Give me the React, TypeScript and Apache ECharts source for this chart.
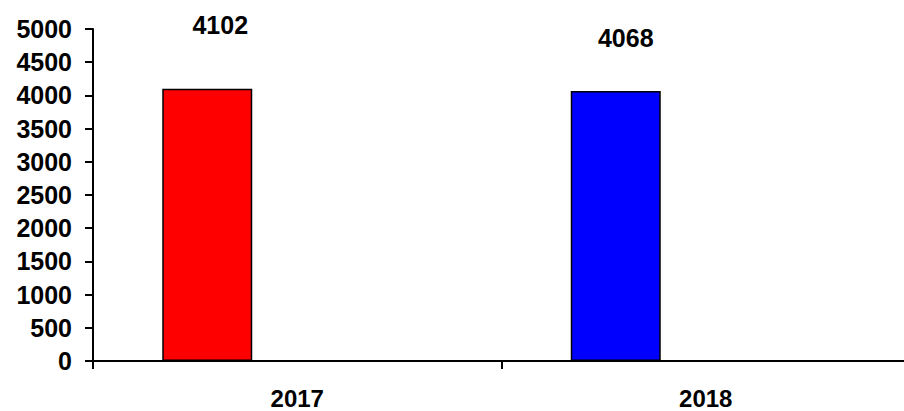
import React, { useEffect, useRef } from "react";
import * as echarts from "echarts";

const categories = ["2017", "2018"];
const values = [4102, 4068];
const barColors = ["#ff0000", "#0000ff"];
const emptySeries = ["-", "-"];
const yMin = 0;
const yMax = 5000;
const yInterval = 500;

const FONT = "'Liberation Sans', Arial, sans-serif";
const FS = 25;

export default function App() {
  const ref = useRef<HTMLDivElement>(null);
  useEffect(() => {
    if (!ref.current) return;
    const chart = echarts.init(ref.current, undefined, { renderer: "svg" });
    const labelOffsets = [
      [13, -46],
      [10, -35],
    ];
    chart.setOption({
      animation: false,
      backgroundColor: "#ffffff",
      grid: {
        left: 93,
        top: 29,
        height: 332,
        width: 817,
        containLabel: false,
        outerBoundsMode: "none",
      },
      xAxis: {
        type: "category",
        data: categories,
        axisLine: { lineStyle: { color: "#000", width: 2 } },
        axisTick: { show: true, alignWithLabel: false, length: 8, lineStyle: { color: "#000", width: 2 } },
        axisLabel: {
          margin: 26,
          color: "#000",
          fontFamily: FONT,
          fontWeight: "bold",
          fontSize: 24,
          lineHeight: 22,
        },
      },
      yAxis: {
        type: "value",
        min: yMin,
        max: yMax,
        interval: yInterval,
        splitLine: { show: false },
        axisLine: { show: true, lineStyle: { color: "#000", width: 2 } },
        axisTick: { show: true, length: 8, lineStyle: { color: "#000", width: 2 } },
        axisLabel: {
          margin: 21,
          color: "#000",
          fontFamily: FONT,
          fontWeight: "bold",
          fontSize: FS,
          formatter: (v: number) => String(v),
        },
      },
      series: [
        {
          type: "bar",
          barWidth: 90,
          barGap: "100%",
          data: values.map((v, i) => ({
            value: v,
            itemStyle: { color: barColors[i], borderColor: "#000", borderWidth: 1.5 },
            label: {
              show: true,
              position: "top",
              offset: labelOffsets[i],
              color: "#000",
              fontFamily: FONT,
              fontWeight: "bold",
              fontSize: FS,
            },
          })),
        },
        {
          type: "bar",
          barWidth: 90,
          data: emptySeries,
        },
      ],
    });
    return () => chart.dispose();
  }, []);
  return <div ref={ref} style={{ width: 904, height: 411, position: "absolute", left: 0, top: 0 }} />;
}
